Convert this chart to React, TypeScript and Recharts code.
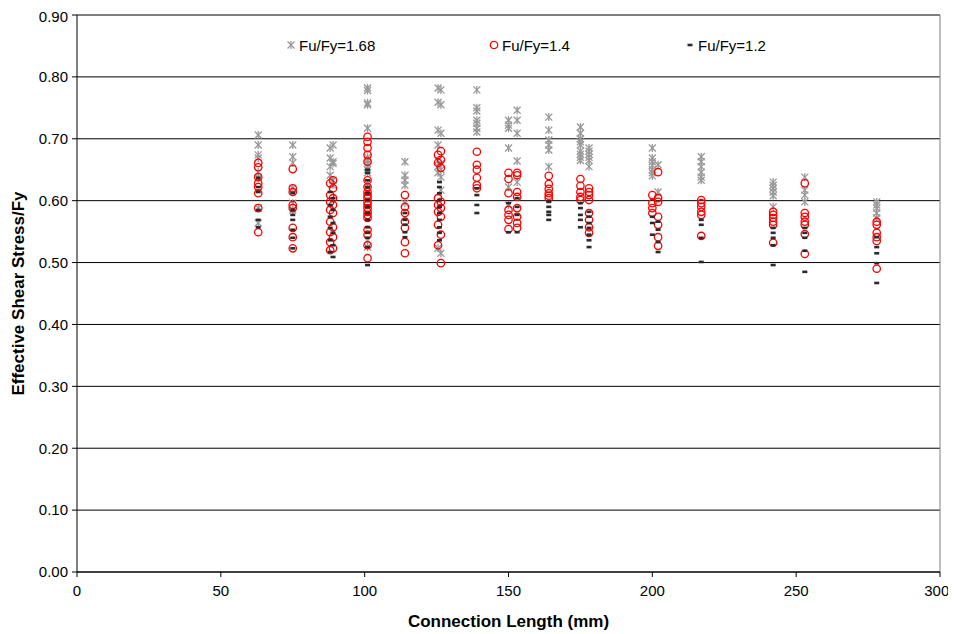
import { ScatterChart, Scatter, XAxis, YAxis, CartesianGrid, Legend, ReferenceLine } from 'recharts';

// connection length (mm) -> effective shear stress / Fy readings, one list per ratio
const fu168: [number, number[]][] = [
  [63, [0.706, 0.69, 0.674, 0.669, 0.646, 0.637, 0.588, 0.564]],
  [75, [0.69, 0.671, 0.661, 0.62, 0.596, 0.585]],
  [88, [0.685, 0.669, 0.655, 0.641]],
  [89, [0.69, 0.663, 0.66, 0.633, 0.625]],
  [101, [0.782, 0.778, 0.758, 0.755, 0.717, 0.67, 0.665, 0.66, 0.655, 0.65, 0.645, 0.628, 0.536, 0.525]],
  [114, [0.663, 0.641, 0.633, 0.625, 0.596]],
  [125.5, [0.782, 0.759, 0.714, 0.69, 0.665, 0.655, 0.645, 0.523]],
  [126.5, [0.779, 0.755, 0.709, 0.66, 0.65, 0.638, 0.617, 0.515]],
  [139, [0.779, 0.75, 0.745, 0.73, 0.725, 0.717, 0.711]],
  [150, [0.73, 0.722, 0.717, 0.685, 0.622, 0.593]],
  [153, [0.746, 0.73, 0.709, 0.664, 0.63]],
  [164, [0.735, 0.714, 0.698, 0.69, 0.682, 0.655]],
  [175, [0.719, 0.709, 0.7, 0.695, 0.69, 0.68, 0.675, 0.67, 0.665]],
  [178, [0.685, 0.68, 0.675, 0.67, 0.665, 0.655]],
  [200, [0.685, 0.669, 0.663, 0.657, 0.65, 0.645, 0.64]],
  [202, [0.658, 0.614]],
  [217, [0.671, 0.663, 0.655, 0.646, 0.638, 0.633]],
  [242, [0.63, 0.625, 0.62, 0.614, 0.608, 0.59]],
  [253, [0.638, 0.617, 0.609, 0.598]],
  [278, [0.598, 0.593, 0.588, 0.58, 0.572]],
];

const fu14: [number, number[]][] = [
  [63, [0.661, 0.654, 0.638, 0.628, 0.622, 0.612, 0.588, 0.549]],
  [75, [0.651, 0.62, 0.614, 0.593, 0.588, 0.556, 0.541, 0.523]],
  [88, [0.628, 0.609, 0.598, 0.585, 0.566, 0.549, 0.533, 0.52]],
  [89, [0.633, 0.62, 0.604, 0.593, 0.58, 0.557, 0.541, 0.523]],
  [101, [0.703, 0.695, 0.685, 0.674, 0.663, 0.633, 0.622, 0.614, 0.609, 0.604, 0.598, 0.593, 0.588, 0.582, 0.577, 0.572, 0.553, 0.545, 0.528, 0.507]],
  [114, [0.609, 0.59, 0.58, 0.566, 0.556, 0.533, 0.515]],
  [125.5, [0.674, 0.661, 0.604, 0.593, 0.582, 0.561, 0.528]],
  [126.5, [0.68, 0.666, 0.653, 0.598, 0.588, 0.574, 0.545, 0.499]],
  [139, [0.679, 0.658, 0.65, 0.637, 0.625, 0.62]],
  [150, [0.645, 0.635, 0.612, 0.585, 0.577, 0.569, 0.554]],
  [153, [0.645, 0.641, 0.614, 0.606, 0.588, 0.574, 0.564, 0.556]],
  [164, [0.64, 0.627, 0.619, 0.612, 0.608, 0.604]],
  [175, [0.635, 0.624, 0.614, 0.606, 0.601]],
  [178, [0.62, 0.614, 0.609, 0.601, 0.58, 0.569, 0.557, 0.548]],
  [200, [0.609, 0.596, 0.588, 0.58]],
  [202, [0.646, 0.604, 0.598, 0.574, 0.561, 0.541, 0.527]],
  [217, [0.601, 0.596, 0.59, 0.582, 0.577, 0.543]],
  [242, [0.582, 0.577, 0.572, 0.566, 0.561, 0.532]],
  [253, [0.628, 0.58, 0.574, 0.566, 0.561, 0.546, 0.514]],
  [278, [0.566, 0.561, 0.548, 0.541, 0.535, 0.49]],
];

const fu12: [number, number[]][] = [
  [63, [0.637, 0.622, 0.614, 0.585, 0.569, 0.557]],
  [75, [0.612, 0.585, 0.577, 0.569, 0.553, 0.54, 0.523]],
  [88, [0.614, 0.593, 0.574, 0.556, 0.536, 0.517]],
  [89, [0.604, 0.585, 0.564, 0.548, 0.528, 0.509]],
  [101, [0.65, 0.645, 0.633, 0.622, 0.612, 0.601, 0.59, 0.58, 0.569, 0.557, 0.548, 0.54, 0.525, 0.496]],
  [114, [0.58, 0.569, 0.561, 0.549, 0.541]],
  [126, [0.63, 0.622, 0.612, 0.601, 0.59, 0.58, 0.569, 0.557, 0.548, 0.536]],
  [139, [0.62, 0.609, 0.593, 0.58]],
  [150, [0.596, 0.549]],
  [153, [0.604, 0.59, 0.577, 0.549]],
  [164, [0.598, 0.59, 0.582, 0.577, 0.569]],
  [175, [0.596, 0.588, 0.577, 0.569, 0.557]],
  [178, [0.582, 0.574, 0.564, 0.556, 0.545, 0.536, 0.525]],
  [200, [0.574, 0.564, 0.545]],
  [202, [0.566, 0.553, 0.533, 0.517]],
  [217, [0.569, 0.561, 0.54, 0.501]],
  [242, [0.556, 0.548, 0.54, 0.528, 0.496]],
  [253, [0.556, 0.548, 0.54, 0.519, 0.485]],
  [278, [0.541, 0.525, 0.515, 0.499, 0.467]],
];

const seriesNames = ['Fu/Fy=1.68', 'Fu/Fy=1.4', 'Fu/Fy=1.2'];
const xTicks = [0, 50, 100, 150, 200, 250, 300];
const yTicks = [0, 0.1, 0.2, 0.3, 0.4, 0.5, 0.6, 0.7, 0.8, 0.9];

const flatten = (groups: [number, number[]][]) =>
  groups.flatMap(([x, ys]) => ys.map((y) => ({ x, y })));

const FONT = '"Liberation Sans", Arial, sans-serif';

const Star = ({ cx, cy }: any) => (
  <g stroke="#999999" strokeWidth={1.3}>
    <line x1={cx - 3.5} y1={cy - 3.5} x2={cx + 3.5} y2={cy + 3.5} />
    <line x1={cx - 3.5} y1={cy + 3.5} x2={cx + 3.5} y2={cy - 3.5} />
    <line x1={cx} y1={cy - 4} x2={cx} y2={cy + 4} />
  </g>
);

const Ring = ({ cx, cy }: any) => (
  <circle cx={cx} cy={cy} r={3.7} fill="none" stroke="#ff0000" strokeWidth={1.3} />
);

const Dash = ({ cx, cy }: any) => (
  <rect x={cx - 2.5} y={cy - 1.3} width={5} height={2.6} fill="#2b2b2b" />
);

const icons = [Star, Ring, Dash];
const legendLeft = [283, 486, 682];

const renderLegend = ({ payload }: any) => (
  <div style={{ position: 'relative', height: 20, fontFamily: FONT, fontSize: 15 }}>
    {(payload || []).map((p: any) => {
      const i = seriesNames.indexOf(p.value);
      if (i < 0) return null;
      const Icon = icons[i];
      return (
        <div key={p.value} style={{ position: 'absolute', left: legendLeft[i] - 5, top: 0, display: 'flex', alignItems: 'center', height: 20 }}>
          <svg width={10} height={10} style={{ marginRight: 3 }}>
            <Icon cx={5} cy={5} />
          </svg>
          <span style={{ color: '#000' }}>{p.value}</span>
        </div>
      );
    })}
  </div>
);

export default function App() {
  return (
    <div style={{ width: 940, height: 626, fontFamily: FONT }}>
      <ScatterChart width={940} height={626} margin={{ top: 7, right: 8, left: 0, bottom: 0 }}>
        <CartesianGrid horizontal vertical={false} stroke="#000" horizontalValues={yTicks} />
        <XAxis
          type="number"
          dataKey="x"
          domain={[0, 300]}
          ticks={xTicks}
          height={62}
          stroke="#000"
          tickSize={5}
          tickMargin={8}
          tick={{ fill: '#000', fontSize: 15, fontFamily: FONT }}
          label={{ value: 'Connection Length (mm)', position: 'insideBottom', offset: 7, style: { fontWeight: 'bold', fontSize: 17, fill: '#000', fontFamily: FONT } }}
        />
        <YAxis
          type="number"
          dataKey="y"
          domain={[0, 0.9]}
          ticks={yTicks}
          width={69}
          stroke="#000"
          tickSize={5}
          tickMargin={4}
          tickFormatter={(v: number) => v.toFixed(2)}
          tick={{ fill: '#000', fontSize: 15, fontFamily: FONT }}
          label={{ value: 'Effective Shear Stress/Fy', angle: -90, position: 'insideLeft', offset: 10, style: { textAnchor: 'middle', fontWeight: 'bold', fontSize: 17, fill: '#000', fontFamily: FONT } }}
        />
        <ReferenceLine x={300} stroke="#808080" />
        <Legend
          layout="horizontal"
          verticalAlign="middle"
          align="center"
          content={renderLegend}
          wrapperStyle={{ top: 27, left: 0, width: 940, height: 20 }}
        />
        <Scatter name={seriesNames[0]} data={flatten(fu168)} shape={Star} isAnimationActive={false} />
        <Scatter name={seriesNames[1]} data={flatten(fu14)} shape={Ring} isAnimationActive={false} />
        <Scatter name={seriesNames[2]} data={flatten(fu12)} shape={Dash} isAnimationActive={false} />
      </ScatterChart>
    </div>
  );
}
